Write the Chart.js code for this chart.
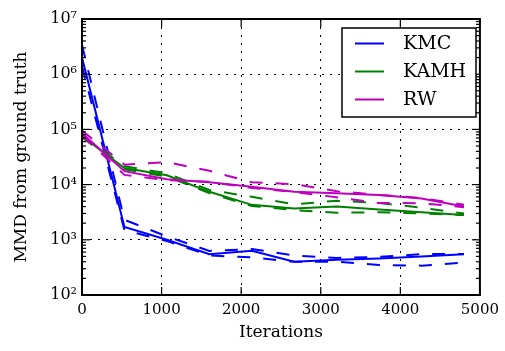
<!DOCTYPE html>
<html><head><meta charset="utf-8">
<script src="https://cdn.jsdelivr.net/npm/chart.js@4.4.0/dist/chart.umd.min.js"></script>
<style>html,body{margin:0;padding:0;background:#fff;}#wrap{width:505px;height:351px;position:relative;}</style>
</head><body><div id="wrap"><canvas id="c" width="505" height="351"></canvas></div>
<script>
// ---- data ----
const iterations = [0, 533, 1067, 1600, 2133, 2667, 3200, 3733, 4267, 4800];
const kmcMean  = [2.0e6, 1700, 1000, 550, 630, 400, 435, 460, 500, 550];
const kmcUpper = [3.4e6, 2300, 1150, 630, 680, 520, 470, 490, 550, 555];
const kmcLower = [1.4e6, 1500, 950, 520, 480, 400, 400, 350, 340, 385];
const kamhMean  = [75000, 20000, 14800, 7400, 4300, 3700, 4000, 3550, 3150, 2800];
const kamhUpper = [78000, 21500, 16000, 8000, 6000, 4400, 5100, 4650, 3800, 3000];
const kamhLower = [72000, 19000, 14000, 7000, 4100, 3450, 3100, 3150, 3000, 2800];
const rwMean  = [85000, 17500, 12500, 11000, 9100, 7400, 7000, 6500, 5600, 4000];
const rwUpper = [95000, 23000, 25500, 17800, 11000, 10200, 7600, 6500, 5700, 4300];
const rwLower = [78000, 15000, 12000, 11200, 8700, 7300, 5900, 4650, 4600, 3900];
const seriesNames = ['KMC', 'KAMH', 'RW'];
const xTicks = [0, 1000, 2000, 3000, 4000, 5000];
const yTicks = [1e2, 1e3, 1e4, 1e5, 1e6, 1e7];
const xLabel = 'Iterations';
const yLabel = 'MMD from ground truth';

// ---- styling ----
const colors = ['#0000ff', '#008000', '#bf00bf'];
const seriesData = [[kmcMean, kmcUpper, kmcLower], [kamhMean, kamhUpper, kamhLower], [rwMean, rwUpper, rwLower]];
const SERIF = 'DejaVu Serif';
const toPts = arr => arr.map((v, i) => ({x: iterations[i], y: v}));
const datasets = [];
seriesData.forEach((grp, s) => {
  grp.forEach((arr, k) => {
    datasets.push({
      label: seriesNames[s],
      data: toPts(arr),
      borderColor: colors[s],
      backgroundColor: colors[s],
      borderWidth: 2,
      borderDash: k === 0 ? [] : [13, 13],
      pointRadius: 0,
      tension: 0,
      fill: false,
      order: 2 - s,
      isMain: k === 0
    });
  });
});
const sup = {2:'\u00b2',3:'\u00b3',4:'\u2074',5:'\u2075',6:'\u2076',7:'\u2077'};

const framePlugin = {
  id: 'frame',
  afterDraw(chart) {
    const {ctx, chartArea: a, scales: {x, y}} = chart;
    ctx.save();
    ctx.strokeStyle = '#000';
    ctx.lineWidth = 1.2;
    const line = (x1, y1, x2, y2) => { ctx.beginPath(); ctx.moveTo(x1, y1); ctx.lineTo(x2, y2); ctx.stroke(); };
    xTicks.forEach(v => {
      const px = x.getPixelForValue(v);
      line(px, a.bottom, px, a.bottom - 8);
      line(px, a.top, px, a.top + 8);
    });
    yTicks.forEach(v => {
      const py = y.getPixelForValue(v);
      line(a.left, py, a.left + 8, py);
      line(a.right, py, a.right - 8, py);
    });
    for (let d = 0; d < yTicks.length - 1; d++) {
      for (let m = 2; m <= 9; m++) {
        const py = y.getPixelForValue(yTicks[d] * m);
        line(a.left, py, a.left + 4, py);
        line(a.right, py, a.right - 4, py);
      }
    }
    ctx.lineWidth = 2;
    ctx.strokeRect(a.left, a.top, a.right - a.left, a.bottom - a.top);
    // legend
    const lx = a.left + 260, ly = a.top + 9, lw = 134, lh = 89;
    ctx.fillStyle = '#fff';
    ctx.fillRect(lx, ly, lw, lh);
    ctx.lineWidth = 1.5;
    ctx.strokeRect(lx, ly, lw, lh);
    const mains = chart.data.datasets.filter(d => d.isMain);
    mains.forEach((d, i) => {
      const ry = ly + 15.5 + i * 28;
      ctx.strokeStyle = d.borderColor;
      ctx.lineWidth = 2;
      line(lx + 13, ry, lx + 42, ry);
      ctx.fillStyle = '#000';
      ctx.font = '19px "' + SERIF + '"';
      ctx.textAlign = 'left';
      ctx.textBaseline = 'middle';
      ctx.fillText(d.label, lx + 61, ry + 1);
    });
    ctx.restore();
  }
};

new Chart(document.getElementById('c'), {
  type: 'line',
  data: {datasets},
  options: {
    responsive: false,
    animation: false,
    layout: {padding: {top: 19, right: 21, left: 0, bottom: 0}},
    plugins: {legend: {display: false}, tooltip: {enabled: false}},
    scales: {
      x: {
        type: 'linear', min: 0, max: 5000,
        afterBuildTicks: s => { s.ticks = xTicks.map(v => ({value: v})); },
        afterFit: s => { s.height = 56; },
        ticks: {color: '#000', font: {family: SERIF, size: 15}, padding: 6, maxRotation: 0, callback: v => String(v)},
        grid: {color: '#000', lineWidth: 1, drawTicks: false},
        border: {display: false, dash: [2, 6]},
        title: {display: true, text: xLabel, color: '#000', font: {family: SERIF, size: 17}, padding: {top: 0, bottom: 8}}
      },
      y: {
        type: 'logarithmic', min: 100, max: 1e7,
        afterBuildTicks: s => { s.ticks = yTicks.map(v => ({value: v})); },
        afterFit: s => { s.width = 82; },
        ticks: {color: '#000', font: {family: SERIF, size: 16}, padding: 5,
          callback: v => '10' + sup[Math.round(Math.log10(v))]},
        grid: {color: '#000', lineWidth: 1, drawTicks: false},
        border: {display: false, dash: [2, 6]},
        title: {display: true, text: yLabel, color: '#000', font: {family: SERIF, size: 17}, padding: {top: 11, bottom: 0}}
      }
    }
  },
  plugins: [framePlugin]
});
</script></body></html>
